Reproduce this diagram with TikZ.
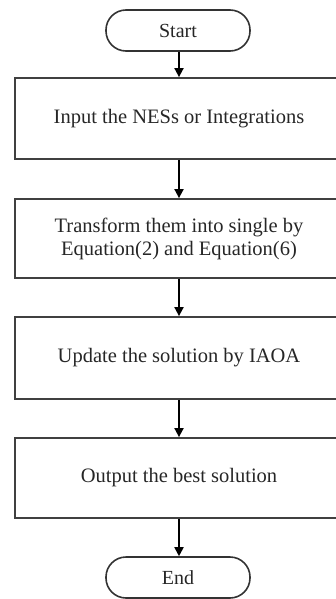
\documentclass[tikz,border=0pt]{standalone}
\usepackage{fontspec}
\setmainfont{Liberation Serif}
\usetikzlibrary{arrows.meta}
\begin{document}
\begin{tikzpicture}[x=1pt,y=-1pt,
  procbox/.style={draw=black!75, line width=1.8pt, minimum width=328pt, inner sep=0pt, text=black!85, font=\fontsize{20.5}{23}\selectfont, align=center},
  termbox/.style={draw=black!80, line width=1.6pt, rounded corners=20pt, minimum width=144pt, minimum height=41pt, inner sep=0pt, text=black!85, font=\fontsize{20}{23}\selectfont},
  flow/.style={line width=1.8pt, -{Triangle[length=9pt,width=9pt]}}]
\useasboundingbox (0,0) rectangle (336,599);
\begin{scope}
\clip (0,0) rectangle (336,599);
\node[termbox] (start) at (178,30.5) {Start};
\node[procbox, minimum height=81pt] (b1) at (179,118.5) {Input the NESs or Integrations};
\node[procbox, minimum height=79pt] (b2) at (179,238.5) {Transform them into single by\\Equation(2) and Equation(6)};
\node[procbox, minimum height=82pt] (b3) at (179,358) {Update the solution by IAOA};
\node[procbox, minimum height=80pt] (b4) at (179,478) {Output the best solution};
\node[termbox] (end) at (178,577.5) {End};
\end{scope}
\draw[flow] (start.south -| b1.north) -- (b1.north);
\draw[flow] (b1.south) -- (b2.north);
\draw[flow] (b2.south) -- (b3.north);
\draw[flow] (b3.south) -- (b4.north);
\draw[flow] (b4.south) -- (end.north -| b4.south);
\end{tikzpicture}
\end{document}
